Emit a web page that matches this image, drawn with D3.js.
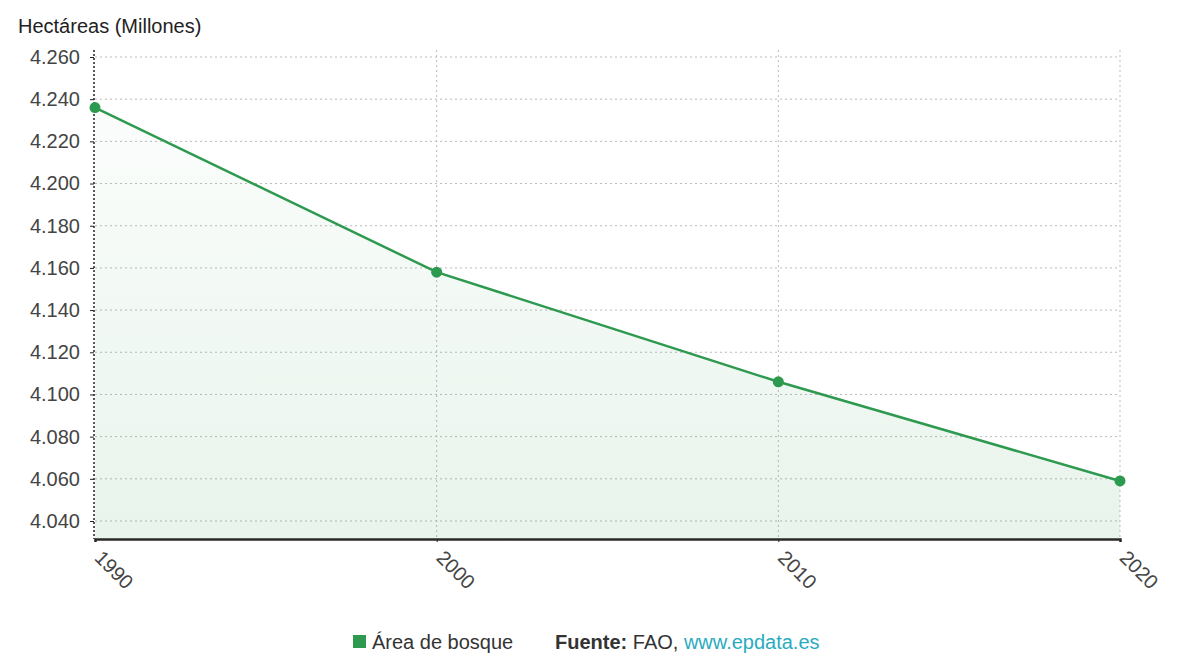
<!DOCTYPE html>
<html><head><meta charset="utf-8">
<script src="https://cdn.jsdelivr.net/npm/d3@7"></script>
<style>body{margin:0;background:#fff;}svg{display:block;font-family:"Liberation Sans",Arial,sans-serif;}</style>
</head><body>
<svg id="c" width="1200" height="666"></svg>
<script>
const years = ["1990","2000","2010","2020"];
const forestArea = [4236, 4158, 4106, 4059];
const yTicks = [4040,4060,4080,4100,4120,4140,4160,4180,4200,4220,4240,4260];
const seriesName = "Área de bosque";

(function(){
const svg = d3.select("#c");
const pL = 95, pR = 1120, pT = 57, pB = 539;
const x = d3.scalePoint().domain(years).range([pL, pR]);
const y = d3.scaleLinear().domain([4040, 4260]).range([521, pT]);
const fmt = v => d3.formatLocale({decimal:",", thousands:".", grouping:[3]}).format(",")(v);

const defs = svg.append("defs");
const grad = defs.append("linearGradient").attr("id","g").attr("x1",0).attr("y1",0).attr("x2",0).attr("y2",1);
grad.append("stop").attr("offset","0%").attr("stop-color","#2e9a50").attr("stop-opacity",0.02);
grad.append("stop").attr("offset","100%").attr("stop-color","#2e9a50").attr("stop-opacity",0.11);

// grid
svg.append("g").selectAll("line").data(yTicks).join("line")
  .attr("x1", pL).attr("x2", pR).attr("y1", d=>y(d)).attr("y2", d=>y(d))
  .attr("stroke","#bbb").attr("stroke-width",1).attr("stroke-dasharray","2,3");
svg.append("g").selectAll("line").data(years.slice(1)).join("line")
  .attr("x1", d=>x(d)).attr("x2", d=>x(d)).attr("y1", 50).attr("y2", pB)
  .attr("stroke","#bbb").attr("stroke-width",1).attr("stroke-dasharray","2,3");

// area
const data = years.map((yr,i)=>({yr, v: forestArea[i]}));
svg.append("path").datum(data)
  .attr("d", d3.area().x(d=>x(d.yr)).y0(pB).y1(d=>y(d.v)))
  .attr("fill","url(#g)");

// y axis
const yAxis = svg.append("g").attr("transform",`translate(${pL-1},0)`)
  .call(d3.axisLeft(y).tickValues(yTicks).tickFormat(fmt).tickSize(4).tickPadding(10));
yAxis.select(".domain").remove();
yAxis.append("line").attr("x1",0).attr("x2",0).attr("y1",50).attr("y2",pB)
  .attr("stroke","#222").attr("stroke-width",1.5).attr("stroke-dasharray","2,2");
yAxis.selectAll(".tick line").attr("stroke","#222");
yAxis.selectAll(".tick text").attr("fill","#444").style("font-size","20px")
  .style("font-family","'Liberation Sans',Arial,sans-serif");

// x axis
const xAxis = svg.append("g").attr("transform",`translate(0,${pB})`)
  .call(d3.axisBottom(x).tickSize(3).tickPadding(6));
xAxis.select(".domain").attr("stroke","#2a2a2a").attr("stroke-width",2.5);
xAxis.selectAll(".tick line").attr("stroke","#222");
xAxis.selectAll(".tick text").attr("fill","#444").style("font-size","20px")
  .style("font-family","'Liberation Sans',Arial,sans-serif")
  .attr("text-anchor","start").attr("dy",0).attr("y",0)
  .attr("transform","translate(-2,20) rotate(45)");

// line
svg.append("path").datum(data)
  .attr("d", d3.line().x(d=>x(d.yr)).y(d=>y(d.v)))
  .attr("fill","none").attr("stroke","#2e9a50").attr("stroke-width",2.5);
svg.append("g").selectAll("circle").data(data).join("circle")
  .attr("cx", d=>x(d.yr)).attr("cy", d=>y(d.v)).attr("r",5.5)
  .attr("fill","#2e9a50");

// title
svg.append("text").attr("x",18).attr("y",33).text("Hectáreas (Millones)")
  .attr("fill","#222").style("font-size","20px");

// legend
svg.append("rect").attr("x",353).attr("y",635).attr("width",13).attr("height",13).attr("fill","#2e9a50");
svg.append("text").attr("x",372).attr("y",649).text(seriesName).attr("fill","#333").style("font-size","20px");
const src = svg.append("text").attr("x",555).attr("y",649).style("font-size","20px").attr("fill","#333");
src.append("tspan").attr("font-weight","bold").text("Fuente:");
src.append("tspan").text(" FAO, ");
src.append("tspan").attr("fill","#2aabbf").text("www.epdata.es");
})();
</script>
</body></html>
